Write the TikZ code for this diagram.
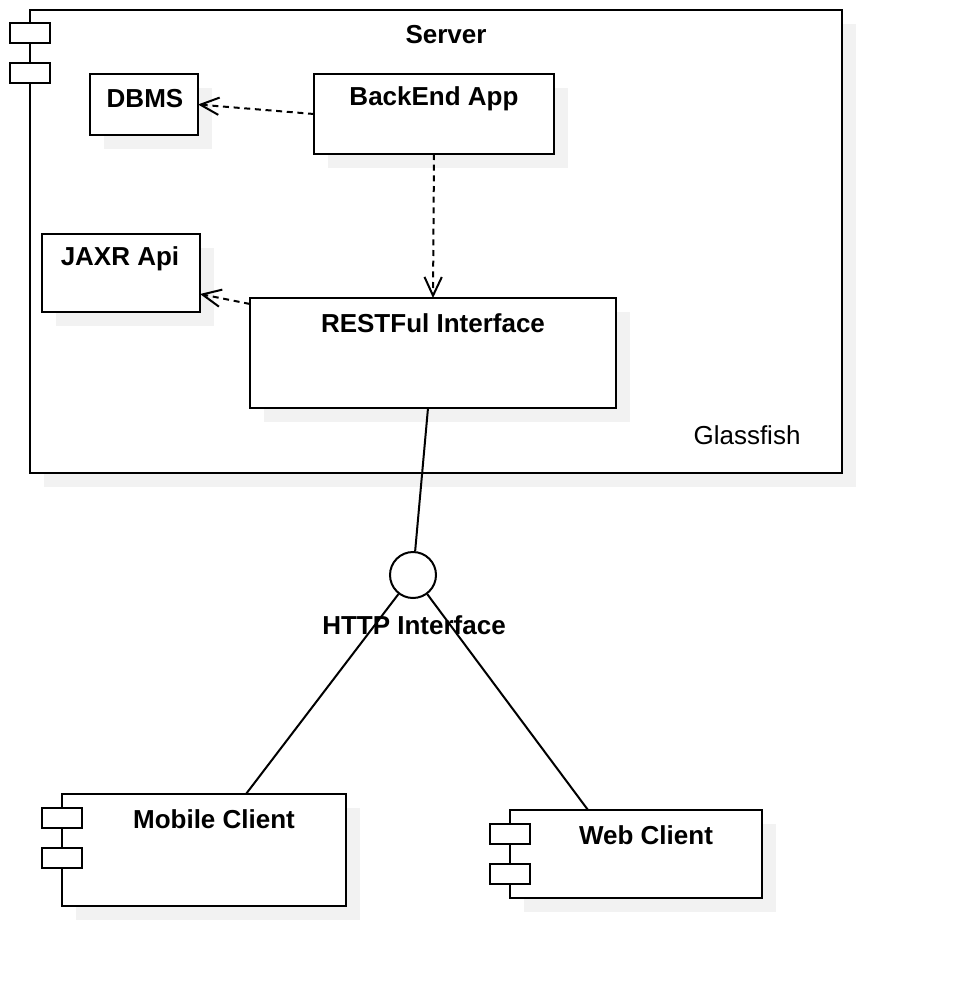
\documentclass[tikz,border=0pt]{standalone}
\usepackage{fontspec}
\setmainfont{Liberation Sans}
\usetikzlibrary{arrows.meta,calc}
\definecolor{shadowgray}{HTML}{F2F2F2}
\tikzset{
  x=0.75pt, y=-0.75pt,
  box/.style={draw, line width=1.5pt, fill=white, rectangle, inner sep=0pt, outer sep=0pt},
  shade box/.style={fill=shadowgray},
  icon/.style={draw, line width=1.5pt, fill=white},
  title/.style={font=\fontsize{19.5}{23}\selectfont\bfseries, inner sep=0pt},
  plain/.style={font=\fontsize{19.5}{23}\selectfont, inner sep=0pt},
  dep/.style={line width=1.5pt, dash pattern=on 4.5pt off 3.5pt, -{Straight Barb[length=14pt,width=13pt,line width=1.5pt]}},
  conn/.style={line width=1.5pt},
  iface/.style={draw, circle, line width=1.5pt, minimum size=34.5pt, inner sep=0pt, fill=white}
}
\newcommand{\ubox}[5]{%
  \fill[shade box] ({#2+14},{#3+14}) rectangle ({#4+14},{#5+14});
  \node[box, minimum width={(#4-#2)*0.75pt}, minimum height={(#5-#3)*0.75pt}] (#1) at ({(#2+#4)/2},{(#3+#5)/2}) {};}
\begin{document}
\begin{tikzpicture}
\useasboundingbox (0,0) rectangle (962,996);
% server
\ubox{server}{30}{10}{842}{473}
\draw[icon] (10,23) rectangle (50,43);
\draw[icon] (10,63) rectangle (50,83);
\node[title] (servert) at (446,35) {Server};
\node[plain] (glass) at (747,435) {Glassfish};
% inner boxes
\ubox{dbms}{90}{74}{198}{135}
\node[title] (dbmst) at (145,99) {DBMS};
\ubox{backend}{314}{74}{554}{154}
\node[title] (backendt) at (434,99) {BackEnd App};
\ubox{jaxr}{42}{234}{200}{312}
\node[title] (jaxrt) at (120,259) {JAXR Api};
\ubox{rest}{250}{298}{616}{408}
\node[title] (restt) at (433,323) {RESTFul Interface};
% dependencies
\draw[dep] (backend.west) -- (dbms.east);
\draw[dep] (backend.south) -- (rest.north);
\draw[dep] ($(rest.north west)+(0,6)$) -- ($(jaxr.south east)+(0,-18)$);
% interface
\node[iface] (http) at (413,575) {};
\node[title] (httpt) at (414,625) {HTTP Interface};
\draw[conn] ($(rest.south)+(-5,0)$) -- (http);
% clients
\ubox{mobile}{62}{794}{346}{906}
\draw[icon] (42,808) rectangle (82,828);
\draw[icon] (42,848) rectangle (82,868);
\node[title] (mobilet) at (214,819) {Mobile Client};
\ubox{web}{510}{810}{762}{898}
\draw[icon] (490,824) rectangle (530,844);
\draw[icon] (490,864) rectangle (530,884);
\node[title] (webt) at (646,835) {Web Client};
\draw[conn] (http) -- ($(mobile.north)+(42,0)$);
\draw[conn] (http) -- ($(web.north)+(-48,0)$);
\end{tikzpicture}
\end{document}
